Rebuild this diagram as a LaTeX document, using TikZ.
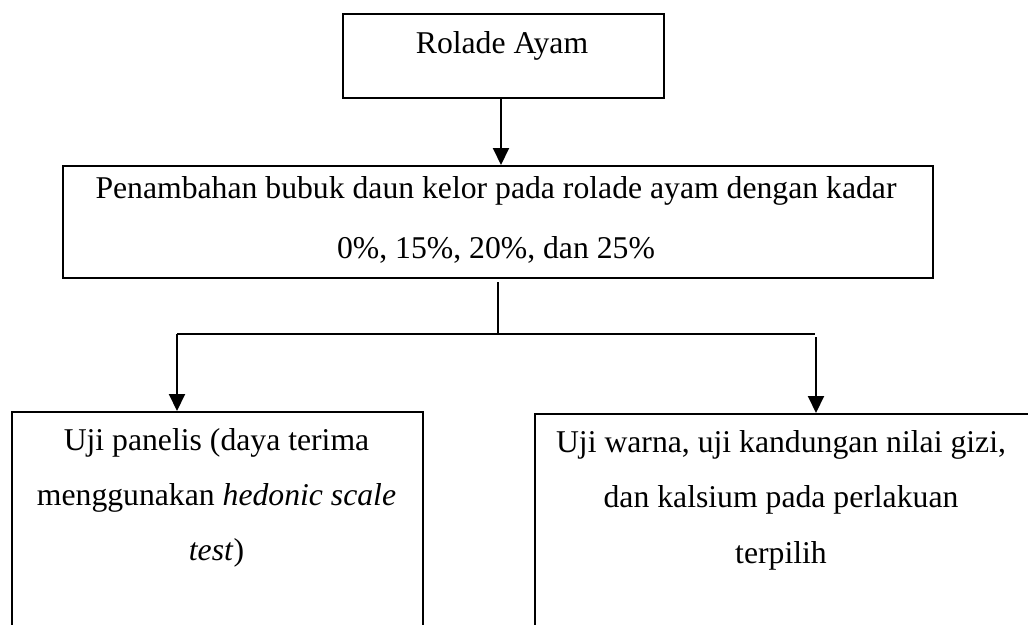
\documentclass[tikz,border=0pt]{standalone}
\usepackage{fontspec}
\setmainfont{Liberation Serif}
\usetikzlibrary{arrows.meta}
\begin{document}
\begin{tikzpicture}[x=1pt,y=-1pt,
  box/.style={draw,line width=2pt,anchor=north west,inner sep=0pt},
  txt/.style={font=\fontsize{31.7}{56}\selectfont,inner sep=0pt,anchor=base},
  link/.style={line width=2pt},
  arr/.style={link,-{Triangle[width=16pt,length=17pt]}}]
\useasboundingbox (0,0) rectangle (1028,624);
\clip (0,0) rectangle (1028,624);
\fill[white] (0,0) rectangle (1028,624);
% boxes
\node[box,minimum width=321pt,minimum height=84pt] (top) at (342,13) {};
\node[box,minimum width=870pt,minimum height=112pt] (mid) at (62,165) {};
\node[box,minimum width=411pt,minimum height=260pt] (left) at (11,411) {};
\node[box,minimum width=520pt,minimum height=260pt] (right) at (534,413) {};
% texts
\node[txt] (t0) at (502,53) {Rolade Ayam};
\node[txt] (m1) at (496,198) {Penambahan bubuk daun kelor pada rolade ayam dengan kadar};
\node[txt] (m2) at (496,258) {0\%, 15\%, 20\%, dan 25\%};
\node[txt] (l1) at (216.5,450) {Uji panelis (daya terima};
\node[txt] (l2) at (216.5,505) {menggunakan \textit{hedonic scale}};
\node[txt] (l3) at (216.5,560) {\textit{test})};
\node[txt] (r1) at (781,452) {Uji warna, uji kandungan nilai gizi,};
\node[txt] (r2) at (781,507) {dan kalsium pada perlakuan};
\node[txt] (r3) at (781,563) {terpilih};
% connectors
\coordinate (s0) at (498,282);
\coordinate (s1) at (498,334);
\coordinate (jl) at (177,334);
\coordinate (jr) at (815,334);
\coordinate (rr) at (816,337);
\coordinate (ta) at (501,97);
\draw[arr] (ta) -- (ta |- mid.north);
\draw[link] (s0) -- (s1);
\draw[link] (jl) -- (jr);
\draw[arr] (jl) -- (jl |- left.north);
\draw[arr] (rr) -- (rr |- right.north);
\end{tikzpicture}
\end{document}
